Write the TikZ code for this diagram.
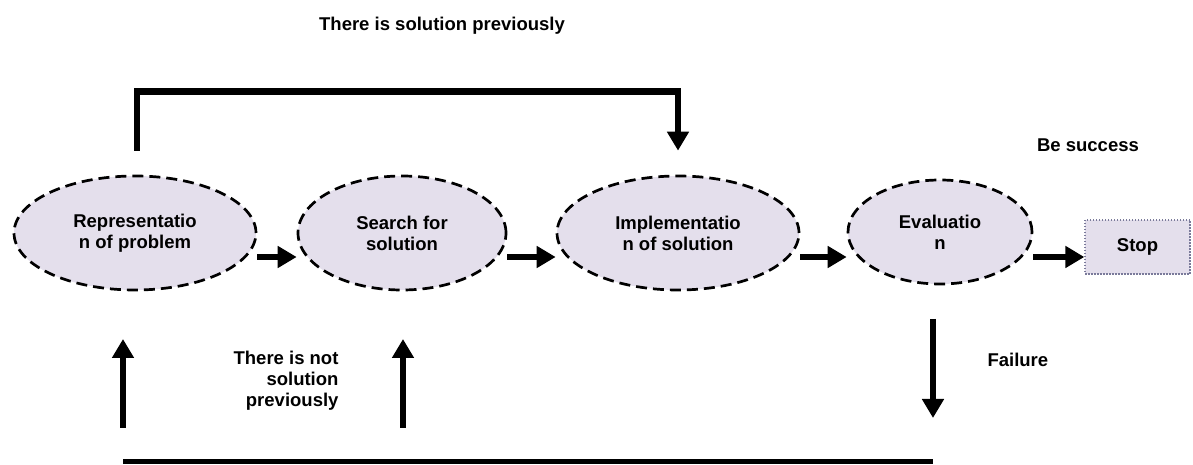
\documentclass[tikz,border=0pt]{standalone}
\usepackage{fontspec}
\setmainfont{Liberation Sans}
\usetikzlibrary{arrows.meta,shapes.geometric}
\definecolor{stepfill}{HTML}{E4DFEC}
\definecolor{stopline}{HTML}{7A7A9A}
\tikzset{
 stepnode/.style={ellipse, draw, fill=stepfill, line width=2.7pt, dash pattern=on 11pt off 6pt, align=center, inner sep=0pt},
 stopnode/.style={rectangle, draw=stopline, fill=stepfill, line width=1.3pt, dash pattern=on 1.5pt off 1.5pt, minimum width=105pt, minimum height=54pt},
 flow/.style={line width=6.5pt, -{Triangle[width=21pt,length=19pt]}},
 baseline/.style={line width=5pt}
}
\begin{document}
\begin{tikzpicture}[x=1pt,y=1pt,font=\bfseries\fontsize{18.5}{21}\selectfont]
 \useasboundingbox (0,0) rectangle (1193,465);

 %steps of the process
 \node[stepnode, minimum width=242pt, minimum height=114pt] (rep) at (135,232) {Representatio\\n of problem};
 \node[stepnode, minimum width=208pt, minimum height=114pt] (search) at (402,232) {Search for\\solution};
 \node[stepnode, minimum width=242pt, minimum height=114pt] (impl) at (678,232) {Implementatio\\n of solution};
 \node[stepnode, minimum width=184pt, minimum height=104pt] (eval) at (940,233) {Evaluatio\\n};
 \node[stopnode] (stop) at (1137.5,218) {Stop};

 %points for the loops below
 \coordinate (failtop) at (933,146);
 \coordinate (failtip) at (933,47);
 \coordinate (backone) at (123,37);
 \coordinate (backonetip) at (123,126);
 \coordinate (backtwo) at (403,37);
 \coordinate (backtwotip) at (403,126);
 \coordinate (lineleft) at (123,3);
 \coordinate (lineright) at (933,3);

 %arrows between steps
 \draw[flow] ([yshift=-24pt]rep.east) -- ([yshift=-24pt]search.west);
 \draw[flow] ([yshift=-24pt]search.east) -- ([yshift=-24pt]impl.west);
 \draw[flow] ([yshift=-24pt]impl.east) -- ([yshift=-25pt]eval.west);
 \draw[flow] ([yshift=-25pt]eval.east) -- ([yshift=-10pt]stop.west);

 %loop when there is solution
 \draw[flow] ([xshift=2pt,yshift=24pt]rep.north) -- ++(0,59) -| ([yshift=24pt]impl.north);

 %loop when it fails
 \draw[flow] (failtop) -- (failtip);
 \draw[baseline] (lineleft) -- (lineright);
 \draw[flow] (backone) -- (backonetip);
 \draw[flow] (backtwo) -- (backtwotip);

 %labels
 \node (solyes) at (442,439) {There is solution previously};
 \node (success) at (1088,320) {Be success};
 \node[anchor=east, align=right] (solno) at (342,84) {There is not\\solution\\previously};
 \node[anchor=west] (failure) at (984,105) {Failure};
\end{tikzpicture}
\end{document}
